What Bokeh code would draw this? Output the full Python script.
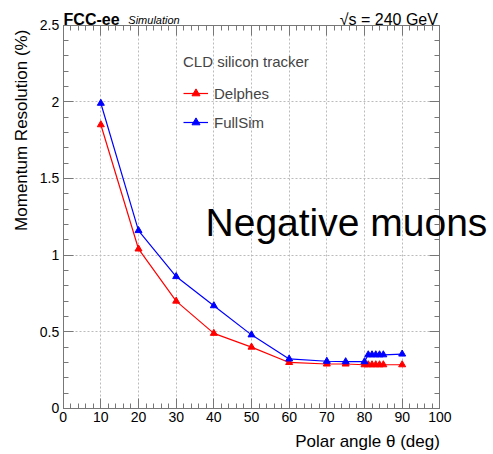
from bokeh.plotting import figure
from bokeh.models import (Range1d, LinearAxis, Label, Legend, LegendItem, FixedTicker,
                          CustomJSTickFormatter)
from bokeh.embed import file_html
from bokeh.resources import INLINE

# ---- data ----
theta = [10, 20, 30, 40, 50, 60, 70, 75, 80, 81, 82, 83, 84, 85, 90]
delphes = [1.85, 1.04, 0.70, 0.49, 0.40, 0.30, 0.29, 0.29, 0.285, 0.285, 0.285, 0.285, 0.285, 0.285, 0.285]
fullsim = [1.99, 1.16, 0.86, 0.67, 0.48, 0.323, 0.308, 0.305, 0.305, 0.35, 0.35, 0.35, 0.35, 0.35, 0.355]
x_ticks = [0, 10, 20, 30, 40, 50, 60, 70, 80, 90, 100]
x_minor = [v for v in range(0, 101, 2)]
y_ticks = [0, 0.5, 1, 1.5, 2, 2.5]
y_tick_labels = ["0", "0.5", "1", "1.5", "2", "2.5"]
y_minor = [round(i * 0.1, 1) for i in range(0, 26)]
x_lim = (0, 100)
y_lim = (0, 2.5)

FONT = "Liberation Sans"
FRAME = "#777777"

# frame covers whole canvas; the visible box is drawn by axes at fixed locations
p = figure(width=493, height=454,
           x_range=Range1d(-16.64, 114.25), y_range=Range1d(-0.30, 2.66),
           output_backend="svg", toolbar_location=None,
           min_border_left=0, min_border_right=0, min_border_top=0, min_border_bottom=0)
p.background_fill_color = "white"
p.border_fill_color = "white"
p.outline_line_color = None

empty_fmt = CustomJSTickFormatter(code="return ''")

def style_axis(ax, ticks, minor, loc, bounds, labels=True):
    ax.ticker = FixedTicker(ticks=ticks, minor_ticks=minor)
    ax.fixed_location = loc
    ax.bounds = bounds
    ax.axis_line_color = FRAME
    ax.major_tick_line_color = FRAME
    ax.minor_tick_line_color = FRAME
    ax.major_tick_in = 10
    ax.major_tick_out = 0
    ax.minor_tick_in = 5
    ax.minor_tick_out = 0
    ax.major_label_text_font = FONT
    ax.major_label_text_font_size = "14px"
    ax.major_label_text_color = "black"
    ax.major_label_standoff = 4
    if not labels:
        ax.formatter = empty_fmt

style_axis(p.xaxis[0], x_ticks, x_minor, y_lim[0], x_lim)
style_axis(p.yaxis[0], y_ticks, y_minor, x_lim[0], y_lim)
p.yaxis[0].major_label_overrides = {t: l for t, l in zip(y_ticks, y_tick_labels)}

top = LinearAxis()
style_axis(top, x_ticks, x_minor, y_lim[1], x_lim, labels=False)
p.add_layout(top, "above")
right = LinearAxis()
style_axis(right, y_ticks, y_minor, x_lim[1], y_lim, labels=False)
p.add_layout(right, "right")

p.xgrid.ticker = FixedTicker(ticks=x_ticks)
p.ygrid.ticker = FixedTicker(ticks=y_ticks)
p.grid.grid_line_color = "#bbbbbb"
p.grid.grid_line_dash = "2 2"
p.grid.grid_line_width = 1
try:
    p.xgrid[0].cross_bounds = y_lim
    p.ygrid[0].cross_bounds = x_lim
except Exception:
    p.grid.visible = False
    p.segment(x0=x_ticks, y0=[y_lim[0]] * len(x_ticks), x1=x_ticks, y1=[y_lim[1]] * len(x_ticks),
              line_color="#bbbbbb", line_dash="2 2", line_width=1)
    p.segment(x0=[x_lim[0]] * len(y_ticks), y0=y_ticks, x1=[x_lim[1]] * len(y_ticks), y1=y_ticks,
              line_color="#bbbbbb", line_dash="2 2", line_width=1)

r1 = p.line(theta, delphes, line_color="#ff0000", line_width=1.2)
m1 = p.scatter(theta, delphes, marker="triangle", size=7, fill_color="#ff0000", line_color="#ff0000")
r2 = p.line(theta, fullsim, line_color="#0000ff", line_width=1.2)
m2 = p.scatter(theta, fullsim, marker="triangle", size=7, fill_color="#0000ff", line_color="#0000ff")

legend = Legend(items=[LegendItem(label="Delphes", renderers=[r1, m1]),
                       LegendItem(label="FullSim", renderers=[r2, m2])],
                location=(183, 322), title="CLD silicon tracker")
legend.title_text_font = FONT
legend.title_text_font_size = "15px"
legend.title_text_font_style = "normal"
legend.title_standoff = 13
legend.label_text_font = FONT
legend.label_text_font_size = "15px"
legend.label_height = 20
legend.glyph_height = 20
legend.glyph_width = 25
legend.label_standoff = 6
legend.spacing = 9
legend.padding = 0
legend.margin = 0
legend.border_line_color = None
legend.background_fill_alpha = 0
p.add_layout(legend, "center")

# texts
p.add_layout(Label(x=37.8, y=1.21, text="Negative muons", text_font=FONT,
                   text_font_size="39px", text_color="black", text_baseline="alphabetic"))
p.add_layout(Label(x=0.1, y=2.535, text="FCC-ee", text_font=FONT, text_font_size="16px",
                   text_font_style="bold", text_color="black", text_baseline="alphabetic"))
p.add_layout(Label(x=17.3, y=2.535, text="Simulation", text_font=FONT, text_font_size="11px",
                   text_font_style="italic", text_color="black", text_baseline="alphabetic"))
p.add_layout(Label(x=99.5, y=2.535, text="\u221as = 240 GeV", text_font=FONT, text_font_size="16px",
                   text_color="black", text_align="right", text_baseline="alphabetic"))
p.add_layout(Label(x=100, y=-0.215, text="Polar angle \u03b8 (deg)", text_font=FONT,
                   text_font_size="17px", text_color="black", text_align="right",
                   text_baseline="middle"))
p.add_layout(Label(x=-11, y=2.47, text="Momentum Resolution (%)", text_font=FONT,
                   text_font_size="17px", text_color="black", text_align="right",
                   text_baseline="middle", angle=1.5707963))

open("out.html", "w").write(file_html(p, INLINE))
